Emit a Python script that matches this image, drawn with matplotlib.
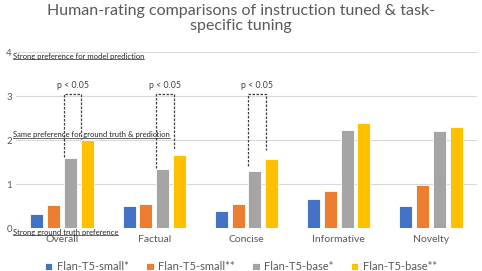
import matplotlib.pyplot as plt
import numpy as np
from matplotlib.transforms import blended_transform_factory
from matplotlib.lines import Line2D

categories = ["Overall", "Factual", "Concise", "Informative", "Novelty"]
series_names = ["Flan-T5-small*", "Flan-T5-small**", "Flan-T5-base*", "Flan-T5-base**"]
small_star = [0.32, 0.51, 0.38, 0.66, 0.50]
small_2star = [0.52, 0.55, 0.55, 0.83, 0.98]
base_star = [1.58, 1.33, 1.30, 2.23, 2.20]
base_2star = [2.00, 1.65, 1.57, 2.39, 2.30]
series = [small_star, small_2star, base_star, base_2star]
colors = ["#4472C4", "#ED7D31", "#A5A5A5", "#FFC000"]

# significance brackets: category index, left end, right end
sig_groups = [0, 1, 2]
sig_left = [1.62, 1.36, 1.40]
sig_right = [2.03, 1.77, 1.77]
sig_top = 3.05

region_labels = ["Strong preference for model prediction",
                 "Same preference for ground truth & prediction",
                 "Strong ground truth preference"]
region_y = [3.9, 2.12, -0.1]

plt.rcParams['font.family'] = ['Lato', 'DejaVu Sans']

fig = plt.figure(figsize=(4.82, 2.71), dpi=100)
ax = fig.add_axes([16/482, 1 - 228/271, 461/482, 176/271])

x = np.arange(len(categories))
step = 0.182
width = 0.14
for i, (vals, name, c) in enumerate(zip(series, series_names, colors)):
    ax.bar(x + (i - 1.5) * step, vals, width, color=c, label=name,
           edgecolor="white", linewidth=0.6, zorder=3)

for g, yl, yr in zip(sig_groups, sig_left, sig_right):
    xl, xr = g + 0.02, g + 0.21
    ax.plot([xl, xl, xr, xr], [yl, sig_top, sig_top, yr], color="#404040",
            linestyle=(0, (2, 1.2)), linewidth=0.9, zorder=4)
    ax.text((xl + xr) / 2, 3.23, "p < 0.05", ha="center", va="center",
            fontsize=6.3, color="#404040")

ax.set_xlim(-0.5, len(categories) - 0.5)
ax.set_ylim(0, 4)
ax.set_yticks([0, 1, 2, 3, 4])
ax.set_xticks(x)
ax.set_xticklabels(categories)
ax.tick_params(axis="x", length=0, pad=5, labelsize=7.5, labelcolor="#595959")
ax.tick_params(axis="y", length=0, pad=3, labelsize=7, labelcolor="#595959")
ax.grid(axis="y", color="#D9D9D9", linewidth=0.8, zorder=0)
for s in ax.spines.values():
    s.set_visible(False)

trans = blended_transform_factory(fig.transFigure, ax.transData)
texts = []
for lab, yv in zip(region_labels, region_y):
    t = fig.text(13/482, yv, lab, transform=trans, fontsize=5.5,
                 color="#262626", va="center", ha="left")
    texts.append(t)

fig.suptitle("Human-rating comparisons of instruction tuned & task-\nspecific tuning",
             y=0.985, fontsize=11.5, color="#595959", linespacing=1.12)

fig.legend(*ax.get_legend_handles_labels(), loc="center", ncol=4,
           bbox_to_anchor=(0.5, 1 - 267/271), frameon=False, fontsize=8,
           handlelength=0.65, handleheight=0.65, handletextpad=0.4,
           columnspacing=1.6, labelcolor="#595959")

# underline the region labels
fig.canvas.draw()
r = fig.canvas.get_renderer()
inv = fig.transFigure.inverted()
for t in texts:
    bb = t.get_window_extent(r)
    (x0, y0), (x1, _) = inv.transform([(bb.x0, bb.y0 + 0.5), (bb.x1, bb.y0)])
    fig.add_artist(Line2D([x0, x1], [y0, y0], transform=fig.transFigure,
                          color="#262626", linewidth=0.5))

fig.savefig("out.png", dpi=100)
